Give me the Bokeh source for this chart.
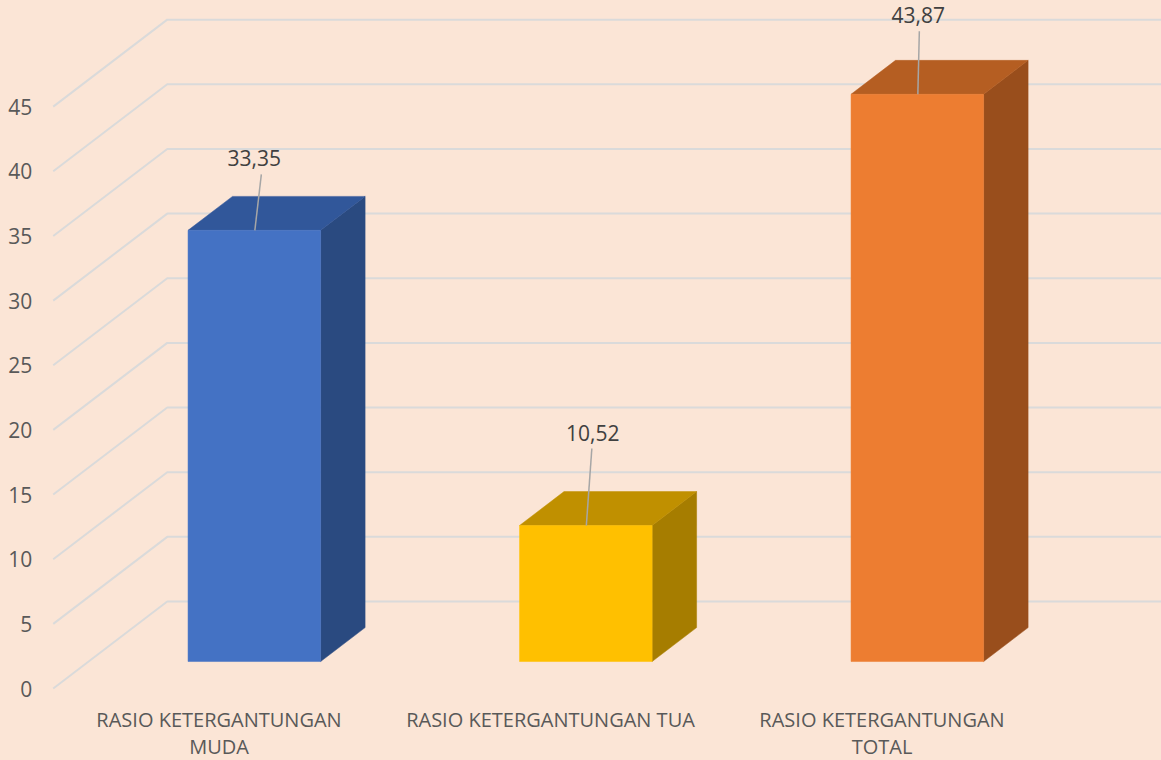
from bokeh.plotting import figure
from bokeh.models import Range1d
from bokeh.core.properties import value
from bokeh.embed import file_html
from bokeh.resources import INLINE

# ---- data ----
categories = ["RASIO KETERGANTUNGAN\nMUDA", "RASIO KETERGANTUNGAN TUA", "RASIO KETERGANTUNGAN\nTOTAL"]
values = [33.35, 10.52, 43.87]
value_labels = ["33,35", "10,52", "43,87"]
y_ticks = [0, 5, 10, 15, 20, 25, 30, 35, 40, 45]

# ---- style ----
front_colors = ["#4472C4", "#FFC000", "#ED7D31"]
top_colors = ["#31579A", "#C09000", "#B55E22"]
side_colors = ["#2A4A80", "#A67D00", "#994E1C"]
BG = "#FBE5D6"
GRID = "#DADADA"
FONT = "Open Sans"

W, H = 1161, 760
PX_X = 331.5    # pixels per category unit
PX_Y = 12.93    # pixels per value unit
X0 = (0 - 218.5) / PX_X
Y_TOP = (688 - 0) / PX_Y
x_range = Range1d(X0, X0 + W / PX_X)
y_range = Range1d(Y_TOP - H / PX_Y, Y_TOP)

DX = 114 / PX_X   # depth offset (x) from floor front to back wall
DY = 87 / PX_Y    # depth offset (y)
F_DEPTH = 0.31    # bar front plane depth fraction
B_DEPTH = 0.39    # bar depth fraction
HALF_W = 0.2

p = figure(width=W, height=H, x_range=x_range, y_range=y_range,
           output_backend="svg", toolbar_location=None, min_border=0)
p.axis.visible = False
p.grid.visible = False
p.outline_line_color = None
p.background_fill_color = BG
p.border_fill_color = BG

n = len(categories)
# gridlines: diagonal on side wall + horizontal on back wall
gx, gy = [], []
for t in y_ticks:
    gx.append([-0.5, -0.5 + DX, n - 0.5 + DX])
    gy.append([t, t + DY, t + DY])
p.multi_line(gx, gy, line_color=GRID, line_width=2)

# y tick labels
p.text(x=[-0.5] * len(y_ticks), y=y_ticks, text=[str(t) for t in y_ticks],
       x_offset=-21, text_align="right", text_baseline="middle",
       text_font=value(FONT), text_font_size="21px", text_color="#595959")

# bars
fx, fy, tx, ty, sx, sy = [], [], [], [], [], []
for i, v in enumerate(values):
    c = i + F_DEPTH * DX
    b = F_DEPTH * DY
    ddx, ddy = B_DEPTH * DX, B_DEPTH * DY
    fx.append([c - HALF_W, c + HALF_W, c + HALF_W, c - HALF_W])
    fy.append([b, b, b + v, b + v])
    tx.append([c - HALF_W, c + HALF_W, c + HALF_W + ddx, c - HALF_W + ddx])
    ty.append([b + v, b + v, b + v + ddy, b + v + ddy])
    sx.append([c + HALF_W, c + HALF_W + ddx, c + HALF_W + ddx, c + HALF_W])
    sy.append([b, b + ddy, b + v + ddy, b + v])
p.patches(sx, sy, fill_color=side_colors, line_color=side_colors, line_width=0.5)
p.patches(tx, ty, fill_color=top_colors, line_color=top_colors, line_width=0.5)
p.patches(fx, fy, fill_color=front_colors, line_color=front_colors, line_width=0.5)

# data labels with leader lines
lab_dx_px = [0, 7, 1]
lab_dy_px = [72, 93, 79]
lead_dx_px = [7, -1, 1]
lx, ly, lsx, lsy, lex, ley = [], [], [], [], [], []
for i, v in enumerate(values):
    c = i + F_DEPTH * DX
    top = F_DEPTH * DY + v
    xl = c + lab_dx_px[i] / PX_X
    yl = top + lab_dy_px[i] / PX_Y
    lx.append(xl); ly.append(yl)
    lsx.append(xl + lead_dx_px[i] / PX_X); lsy.append(yl - 16 / PX_Y)
    lex.append(c + 0.5 / PX_X); ley.append(top)
p.segment(lsx, lsy, lex, ley, line_color="#A6A6A6", line_width=1.5)
p.text(x=lx, y=ly, text=value_labels, text_align="center", text_baseline="middle",
       text_font=value(FONT), text_font_size="21px", text_color="#404040")

# category labels
cx, cy, ct = [], [], []
for i, cat in enumerate(categories):
    for j, line in enumerate(cat.split("\n")):
        cx.append(i)
        cy.append(-(31 + 27 * j) / PX_Y)
        ct.append(line)
p.text(x=cx, y=cy, text=ct, text_align="center", text_baseline="middle",
       text_font=value(FONT), text_font_size="20px", text_color="#595959")

html = file_html(p, INLINE, title="Rasio Ketergantungan")
html = html.replace("</head>", "<style>body{background:%s;}</style></head>" % BG, 1)
open("out.html", "w").write(html)
